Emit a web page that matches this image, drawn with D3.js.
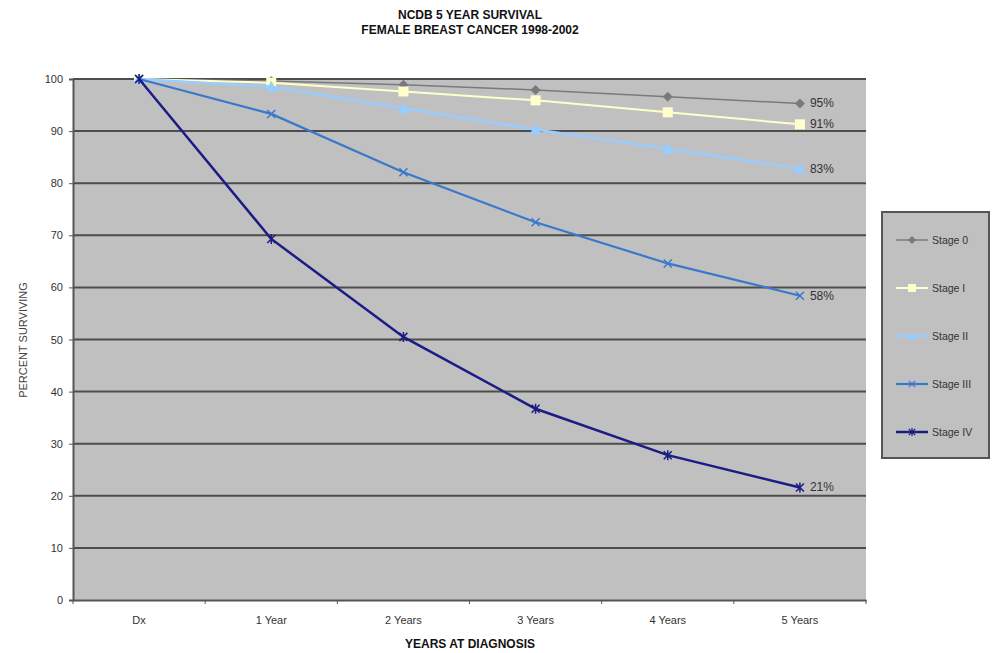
<!DOCTYPE html>
<html>
<head>
<meta charset="utf-8">
<script src="https://cdn.jsdelivr.net/npm/d3@7"></script>
<style>
  html, body { margin: 0; padding: 0; background: #fff; }
  svg { display: block; font-family: "Liberation Sans Narrow", "Liberation Sans", Arial, sans-serif; }
</style>
</head>
<body>
<svg id="chart" width="995" height="653"></svg>
<script>
// Survival by stage, percent of patients alive at each follow-up point
const categories = ["Dx", "1 Year", "2 Years", "3 Years", "4 Years", "5 Years"];
const stageNames = ["Stage 0", "Stage I", "Stage II", "Stage III", "Stage IV"];
const stage0   = [100, 99.6, 98.9, 97.9, 96.6, 95.3];
const stageI   = [100, 99.3, 97.6, 95.9, 93.6, 91.3];
const stageII  = [100, 98.5, 94.4, 90.3, 86.6, 82.8];
const stageIII = [100, 93.3, 82.1, 72.5, 64.6, 58.4];
const stageIV  = [100, 69.3, 50.5, 36.7, 27.8, 21.6];
const endLabels = ["95%", "91%", "83%", "58%", "21%"];
const yTicks = [0, 10, 20, 30, 40, 50, 60, 70, 80, 90, 100];

const seriesValues = [stage0, stageI, stageII, stageIII, stageIV];
const colors  = ["#7a7a7a", "#ffffcc", "#99ccff", "#3a78cc", "#1c1c86"];
const widths  = [1.5, 2, 2.5, 2.2, 2.5];
const symbols = ["diamond", "square", "triangle", "cross", "star"];

const svg = d3.select("#chart");
const plot = { left: 73, right: 866, top: 79, bottom: 600 };

const x = d3.scaleBand().domain(categories).range([plot.left, plot.right]);
const xc = d => x(d) + x.bandwidth() / 2;
const y = d3.scaleLinear().domain([0, 100]).range([plot.bottom, plot.top]);

// Titles
const title = svg.append("g").attr("font-weight", "bold").attr("font-size", 12)
  .attr("text-anchor", "middle").attr("fill", "#111");
title.append("text").attr("x", 470).attr("y", 19).text("NCDB 5 YEAR SURVIVAL");
title.append("text").attr("x", 470).attr("y", 34).text("FEMALE BREAST CANCER 1998-2002");

// Plot background
svg.append("rect")
  .attr("x", plot.left).attr("y", plot.top)
  .attr("width", plot.right - plot.left).attr("height", plot.bottom - plot.top)
  .attr("fill", "#c0c0c0");

// Horizontal gridlines
svg.append("g").selectAll("line").data(yTicks.filter(t => t > 0)).join("line")
  .attr("x1", plot.left).attr("x2", plot.right)
  .attr("y1", d => y(d)).attr("y2", d => y(d))
  .attr("stroke", "#4d4d4d").attr("stroke-width", 2);

// Axes
const yAxis = svg.append("g").attr("transform", `translate(${plot.left},0)`)
  .call(d3.axisLeft(y).tickValues(yTicks).tickSize(4).tickPadding(6));
const xAxis = svg.append("g").attr("transform", `translate(0,${plot.bottom})`)
  .call(d3.axisBottom(x).tickSize(0).tickPadding(16));
// category separators along the bottom axis
xAxis.selectAll(".sep").data(d3.range(categories.length + 1)).join("line")
  .attr("class", "sep")
  .attr("x1", i => plot.left + i * x.step()).attr("x2", i => plot.left + i * x.step())
  .attr("y1", 0).attr("y2", 4).attr("stroke", "#555");
[yAxis, xAxis].forEach(a => {
  a.select(".domain").attr("stroke", "#555").attr("stroke-width", 2);
  a.selectAll(".tick line").attr("stroke", "#555");
  a.selectAll("text").attr("font-size", 11).attr("fill", "#333")
    .attr("font-family", "'Liberation Sans', Arial, sans-serif");
});

// Axis titles
svg.append("text").attr("x", 470).attr("y", 648).attr("text-anchor", "middle")
  .attr("font-weight", "bold").attr("font-size", 12).attr("fill", "#111")
  .text("YEARS AT DIAGNOSIS");
svg.append("text").attr("transform", "translate(27,340) rotate(-90)")
  .attr("text-anchor", "middle").attr("font-size", 11).attr("fill", "#444")
  .attr("font-family", "'Liberation Sans', Arial, sans-serif")
  .text("PERCENT SURVIVING");

// Marker drawing
function drawMarker(g, kind, color) {
  if (kind === "diamond") {
    g.append("path").attr("d", "M0,-5L5,0L0,5L-5,0Z").attr("fill", color);
  } else if (kind === "square") {
    g.append("rect").attr("x", -5).attr("y", -5).attr("width", 10).attr("height", 10).attr("fill", color);
  } else if (kind === "triangle") {
    g.append("path").attr("d", "M0,-6L6,5L-6,5Z").attr("fill", color);
  } else if (kind === "cross") {
    g.append("path").attr("d", "M-4,-4L4,4M-4,4L4,-4").attr("stroke", color).attr("stroke-width", 1.5);
  } else {
    g.append("path").attr("d", "M-4,-4L4,4M-4,4L4,-4M0,-5L0,5").attr("stroke", color).attr("stroke-width", 1.5);
  }
}

const line = d3.line().x((d, i) => xc(categories[i])).y(d => y(d));

seriesValues.forEach((vals, s) => {
  const g = svg.append("g");
  g.append("path").datum(vals).attr("d", line)
    .attr("fill", "none").attr("stroke", colors[s]).attr("stroke-width", widths[s]);
  vals.forEach((v, i) => {
    const m = g.append("g").attr("transform", `translate(${xc(categories[i])},${y(v)})`);
    drawMarker(m, symbols[s], colors[s]);
  });
  const last = vals[vals.length - 1];
  g.append("text")
    .attr("x", xc(categories[categories.length - 1]) + 10)
    .attr("y", y(last) + 4)
    .attr("font-size", 12).attr("fill", "#333")
    .attr("font-family", "'Liberation Sans', Arial, sans-serif")
    .text(endLabels[s]);
});

// Legend
const legend = svg.append("g").attr("transform", "translate(882,212)");
legend.append("rect").attr("width", 107).attr("height", 246)
  .attr("fill", "#c0c0c0").attr("stroke", "#555").attr("stroke-width", 2);
stageNames.forEach((name, s) => {
  const row = legend.append("g").attr("transform", `translate(0,${28 + s * 48})`);
  row.append("line").attr("x1", 14).attr("x2", 46)
    .attr("stroke", colors[s]).attr("stroke-width", widths[s]);
  const m = row.append("g").attr("transform", "translate(30,0) scale(0.8)");
  drawMarker(m, symbols[s], colors[s]);
  row.append("text").attr("x", 50).attr("y", 4)
    .attr("font-size", 10.5).attr("fill", "#333")
    .attr("font-family", "'Liberation Sans', Arial, sans-serif")
    .text(name);
});
</script>
</body>
</html>
